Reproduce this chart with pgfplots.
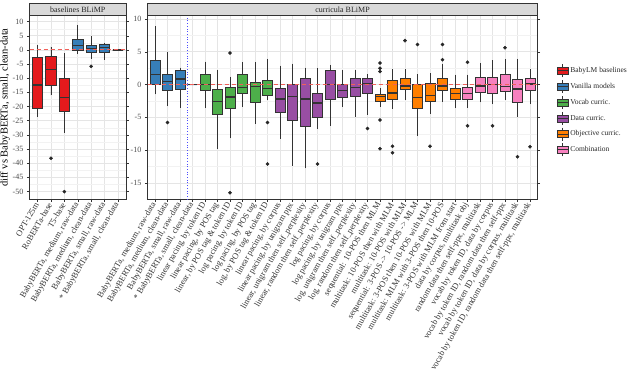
\documentclass[border=0pt]{standalone}
\usepackage{fontspec}
\setmainfont{Liberation Serif}
\usepackage{pgfplots}
\pgfplotsset{compat=1.18}
\usepgfplotslibrary{statistics}
\definecolor{cred}{HTML}{E41A1C}
\definecolor{cblue}{HTML}{377EB8}
\definecolor{cgreen}{HTML}{4DAF4A}
\definecolor{cpurple}{HTML}{984EA3}
\definecolor{corange}{HTML}{FF7F00}
\definecolor{cpink}{HTML}{F781BF}
\definecolor{edge}{HTML}{333333}
\definecolor{zeroline}{HTML}{F0605A}

\pgfplotsset{
  panel/.style={
    scale only axis, height=183.6pt,
    axis line style={edge, line width=0.6pt},
    tick align=outside, major tick length=2.6pt, minor tick length=0pt,
    tick style={edge, line width=0.5pt},
    xmajorgrids, ymajorgrids, yminorgrids, minor y tick num=1,
    major grid style={black!10, line width=0.6pt},
    minor grid style={black!5, line width=0.35pt},
    xticklabel style={rotate=60, anchor=east, font=\fontsize{8.5}{9}\selectfont, text=black!80, inner sep=1.5pt},
    yticklabel style={font=\fontsize{8}{9}\selectfont, text=black!70},
    /pgf/number format/assume math mode=true,
    boxplot/draw direction=y,
    boxplot/box extend=0.78,
    boxplot/whisker extend=0,
    boxplot/every box/.style={draw=edge, line width=0.6pt},
    boxplot/every whisker/.style={edge, line width=0.6pt},
    boxplot/every median/.style={edge, line width=1.3pt},
  },
  zero/.style={forget plot, zeroline, line width=0.9pt, dash pattern=on 4pt off 3pt},
  boxleg/.style={legend image code/.code={
    \draw[edge, line width=0.5pt] (5.5pt,3.5pt) -- (5.5pt,6.5pt) (5.5pt,-3.5pt) -- (5.5pt,-6.5pt);
    \draw[##1, draw=edge, line width=0.5pt] (0pt,-3.5pt) rectangle (11pt,3.5pt);
    \draw[edge, line width=1pt] (0pt,0pt) -- (11pt,0pt);
  }},
}

% position, colour, lower whisker, lower quartile, median, upper quartile, upper whisker, outliers
\newcommand{\bx}[8]{%
  \addplot[forget plot, fill=#2, draw=edge, mark=*, mark size=1.6pt,
    mark options={fill=black!85, draw=black!85, solid},
    boxplot prepared={draw position=#1, lower whisker=#3, lower quartile=#4,
      median=#5, upper quartile=#6, upper whisker=#7}]
    coordinates {#8};}

\begin{document}
\begin{tikzpicture}
\useasboundingbox (0,0) rectangle (640pt,368pt);

\begin{axis}[panel, name=b, at={(29.5pt,168.7pt)}, anchor=south west, width=96.5pt,
  xmin=0.4, xmax=7.6, ymin=-52.8, ymax=12.1,
  xtick={1,...,7},
  xticklabels={OPT-125m, RoBERTa-base, T5-base, {BabyBERTa, medium, raw-data},
    {BabyBERTa, medium, clean-data}, {BabyBERTa, small, raw-data}, {* BabyBERTa, small, clean-data}},
  ytick={-50,-45,...,10},
  ylabel={diff vs BabyBERTa, small, clean-data},
  ylabel style={font=\fontsize{10.5}{12}\selectfont, text=black, yshift=-4pt},
]
\bx{1}{cred}{-23.6}{-20.6}{-12.4}{-2.6}{1.8}{}
\bx{2}{cred}{-16.1}{-12.4}{-6.8}{-2.4}{1.2}{(0,-38.3)}
\bx{3}{cred}{-29.2}{-21.8}{-16.8}{-10.0}{-1.2}{(0,-50.1)}
\bx{4}{cblue}{-1.5}{0}{1.5}{3.7}{8.9}{}
\bx{5}{cblue}{-3.2}{-0.9}{0.5}{1.55}{4.9}{(0,-5.8)}
\bx{6}{cblue}{-3.5}{-0.75}{0.85}{2.1}{2.6}{}
\bx{7}{cblue}{0}{0}{0}{0}{0}{}
\addplot[zero] coordinates {(0.4,0) (7.6,0)};
\end{axis}
\draw[fill=black!15, draw=edge, line width=0.5pt] (b.north west) rectangle ([yshift=12.6pt]b.north east);
\node[font=\fontsize{8}{9}\selectfont, text=black!85] at ([yshift=6.3pt]b.north) {baselines BLiMP};

\begin{axis}[panel, name=c, at={(147.5pt,168.7pt)}, anchor=south west, width=390pt,
  xmin=0.4, xmax=31.6, ymin=-17.5, ymax=10.5,
  xtick={1,...,31},
  xticklabels={{BabyBERTa, medium, raw-data}, {BabyBERTa, medium, clean-data},
    {BabyBERTa, small, raw-data}, {* BabyBERTa, small, clean-data},
    {linear pacing, by token ID}, {linear pacing, by POS tag}, {linear, by POS tag \& token ID},
    {log pacing, by token ID}, {log pacing, by POS tag}, {log, by POS tag \& token ID},
    {linear pacing, by corpus}, {linear pacing, by unigram ppx},
    {linear, unigram then self\_perplexity}, {linear, random then self\_perplexity},
    {log pacing, by corpus}, {log pacing, by unigram ppx},
    {log, unigram then self\_perplexity}, {log, random then self\_perplexity},
    {sequential: 10-POS then MLM}, {multitask: 10-POS then with MLM},
    {multitask: 10-POS with MLM}, {sequential: 3-POS -> 10-POS -> MLM},
    {multitask: 3-POS then 10-POS with MLM}, {multitask: MLM with 3-POS then 10-POS},
    {multitask: 3-POS with MLM from start},
    {data by corpus, multitask obj}, {random data then self-ppx, multitask},
    {vocab by token ID, data by corpus}, {vocab by token ID, random data then self-ppx},
    {vocab by token ID, data by corpus, multitask},
    {vocab by token ID, random data then self-ppx, multitask}},
  ytick={-15,-10,...,10},
  legend style={at={(1.04,0.484)}, anchor=west, draw=none, fill=none,
    font=\fontsize{7.5}{9}\selectfont, row sep=2.3pt, text=black!85},
  legend cell align=left,
]
\bx{1}{cblue}{-1.5}{0}{1.5}{3.7}{8.9}{}
\bx{2}{cblue}{-3.3}{-0.9}{0.5}{1.55}{4.9}{(0,-5.8)}
\bx{3}{cblue}{-3.5}{-0.75}{0.85}{2.1}{2.6}{}
\bx{4}{cblue}{0}{0}{0}{0}{0}{}
\bx{5}{cgreen}{-3.6}{-0.9}{0}{1.6}{3.5}{}
\bx{6}{cgreen}{-9.8}{-4.6}{-2.6}{-0.7}{2.2}{}
\bx{7}{cgreen}{-8.2}{-3.6}{-1.9}{-0.4}{1.2}{(0,4.8) (0,-16.5)}
\bx{8}{cgreen}{-3.4}{-1.3}{-0.5}{1.5}{3.4}{}
\bx{9}{cgreen}{-6.0}{-2.7}{-0.3}{0.4}{3.4}{}
\bx{10}{cgreen}{-2.4}{-1.6}{-0.6}{0.6}{3.9}{(0,-5.8) (0,-12.1)}
\bx{11}{cpurple}{-8.3}{-4.2}{-2.2}{-0.6}{2.9}{}
\bx{12}{cpurple}{-12.4}{-5.4}{-1.8}{0.1}{3.2}{}
\bx{13}{cpurple}{-12.8}{-6.3}{-2.2}{1.0}{2.6}{}
\bx{14}{cpurple}{-6.8}{-5.0}{-2.8}{-1.3}{2.5}{(0,-12.1)}
\bx{15}{cpurple}{-6.3}{-2.3}{0}{2.1}{3.0}{}
\bx{16}{cpurple}{-3.4}{-2.0}{-0.9}{0.1}{2.2}{}
\bx{17}{cpurple}{-4.9}{-1.8}{-0.4}{1.0}{2.2}{}
\bx{18}{cpurple}{-4.6}{-1.3}{0.2}{1.0}{1.6}{(0,-6.7)}
\bx{19}{corange}{-3.4}{-2.6}{-1.8}{-1.5}{-0.5}{(0,3.3) (0,2.5) (0,2.0) (0,-5.4) (0,-9.8)}
\bx{20}{corange}{-3.7}{-2.2}{-1.3}{0.6}{2.4}{(0,-9.4) (0,-10.4)}
\bx{21}{corange}{-2.3}{-0.7}{-0.2}{1.0}{2.4}{(0,6.7)}
\bx{22}{corange}{-7.8}{-3.6}{-2.0}{0}{1.6}{(0,6.1)}
\bx{23}{corange}{-4.5}{-2.6}{-1.7}{0.2}{1.7}{(0,-9.4)}
\bx{24}{corange}{-2.6}{-0.8}{-0.2}{1.0}{3.2}{(0,6.1) (0,3.8)}
\bx{25}{corange}{-3.6}{-2.3}{-1.4}{-0.5}{1.5}{}
\bx{26}{cpink}{-3.5}{-2.3}{-1.4}{-0.4}{1.5}{(0,3.4) (0,-6.3)}
\bx{27}{cpink}{-2.7}{-1.2}{-0.2}{1.1}{3.3}{}
\bx{28}{cpink}{-3.0}{-1.3}{0}{1.1}{3.7}{(0,-6.3)}
\bx{29}{cpink}{-2.3}{-1.1}{-0.3}{1.5}{3.9}{(0,5.6)}
\bx{30}{cpink}{-4.9}{-2.7}{-0.7}{0.8}{3.9}{(0,-11.0)}
\bx{31}{cpink}{-3.0}{-0.8}{0.1}{1.0}{2.4}{(0,-9.5)}
\addplot[forget plot, blue!70, dotted, line width=0.7pt] coordinates {(3.6,-17.5) (3.6,10.5)};
\addplot[zero] coordinates {(0.4,0) (31.6,0)};
\addlegendimage{boxleg, fill=cred}\addlegendentry{BabyLM baselines}
\addlegendimage{boxleg, fill=cblue}\addlegendentry{Vanilla models}
\addlegendimage{boxleg, fill=cgreen}\addlegendentry{Vocab curric.}
\addlegendimage{boxleg, fill=cpurple}\addlegendentry{Data curric.}
\addlegendimage{boxleg, fill=corange}\addlegendentry{Objective curric.}
\addlegendimage{boxleg, fill=cpink}\addlegendentry{Combination}
\end{axis}
\draw[fill=black!15, draw=edge, line width=0.5pt] (c.north west) rectangle ([yshift=12.6pt]c.north east);
\node[font=\fontsize{8}{9}\selectfont, text=black!85] at ([yshift=6.3pt]c.north) {curricula BLiMP};
\end{tikzpicture}
\end{document}
